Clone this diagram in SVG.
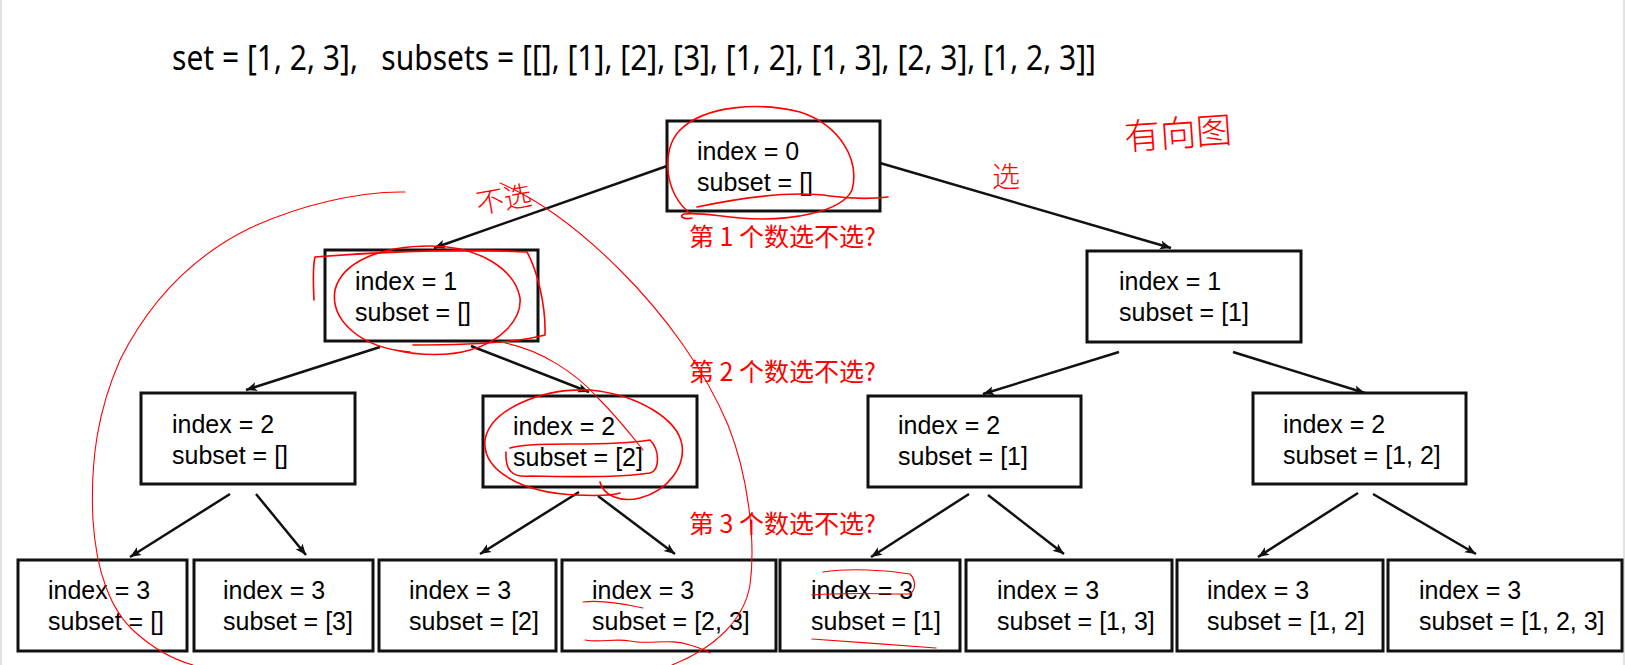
<svg xmlns="http://www.w3.org/2000/svg" width="1625" height="665" viewBox="0 0 1625 665">
<defs>
<style>
.box{fill:#fff;stroke:#111;stroke-width:3}
.t{font-family:"Liberation Sans",Arial,sans-serif;font-size:25px;fill:#000}
.title{font-family:"Noto Sans","Open Sans",sans-serif;font-size:34px;fill:#000;white-space:pre}
.lbl{font-family:"Noto Sans CJK SC","Noto Sans",sans-serif;font-size:25px;fill:#ff0000}
.hw{font-family:"Noto Sans CJK SC",sans-serif;fill:#ff0000;font-weight:300}
.edge{stroke:#111;stroke-width:2.5;fill:none;marker-end:url(#ah)}
.ink{stroke:#ff0000;fill:none;stroke-width:1.6;stroke-linecap:round;stroke-linejoin:round}
.thin{stroke:#ff0000;fill:none;stroke-width:1.1;stroke-linecap:round}
</style>
<marker id="ah" markerWidth="12" markerHeight="10" refX="11" refY="5" orient="auto" markerUnits="userSpaceOnUse">
<path d="M0,0.5 L11,5 L0,9.5 L2.5,5 z" fill="#111"/>
</marker>
</defs>
<rect x="0" y="0" width="1625" height="665" fill="#fff"/>
<line x1="1" y1="0" x2="1" y2="665" stroke="#e2e2e2" stroke-width="2"/>
<line x1="1624" y1="0" x2="1624" y2="665" stroke="#e2e2e2" stroke-width="2"/>

<text id="title" class="title" x="172" y="70" textLength="924" lengthAdjust="spacingAndGlyphs" xml:space="preserve">set = [1, 2, 3],   subsets = [[], [1], [2], [3], [1, 2], [1, 3], [2, 3], [1, 2, 3]]</text>

<g id="connectors">
<line class="edge" x1="667" y1="166" x2="434" y2="248"/>
<line class="edge" x1="880" y1="163" x2="1171" y2="248"/>
<line class="edge" x1="380" y1="347" x2="246" y2="390"/>
<line class="edge" x1="471" y1="346" x2="589" y2="392"/>
<line class="edge" x1="1119" y1="352" x2="983" y2="394"/>
<line class="edge" x1="1233" y1="352" x2="1365" y2="393"/>
<line class="edge" x1="230" y1="494" x2="130" y2="557"/>
<line class="edge" x1="256" y1="494" x2="306" y2="555"/>
<line class="edge" x1="579" y1="492" x2="480" y2="554"/>
<line class="edge" x1="598" y1="496" x2="675" y2="554"/>
<line class="edge" x1="969" y1="494" x2="871" y2="557"/>
<line class="edge" x1="988" y1="495" x2="1064" y2="554"/>
<line class="edge" x1="1358" y1="493" x2="1258" y2="557"/>
<line class="edge" x1="1373" y1="494" x2="1476" y2="554"/>
</g>

<g id="n0"><rect class="box" x="667" y="121" width="213" height="90"/><text class="t" x="697" y="160">index = 0</text><text class="t" x="697" y="191">subset = []</text></g>
<g id="n1"><rect class="box" x="325" y="250" width="213" height="91"/><text class="t" x="355" y="290">index = 1</text><text class="t" x="355" y="321">subset = []</text></g>
<g id="n2"><rect class="box" x="1087" y="251" width="214" height="91"/><text class="t" x="1119" y="290">index = 1</text><text class="t" x="1119" y="321">subset = [1]</text></g>
<g id="n3"><rect class="box" x="141" y="393" width="214" height="91"/><text class="t" x="172" y="433">index = 2</text><text class="t" x="172" y="464">subset = []</text></g>
<g id="n4"><rect class="box" x="483" y="396" width="214" height="91"/><text class="t" x="513" y="435">index = 2</text><text class="t" x="513" y="466">subset = [2]</text></g>
<g id="n5"><rect class="box" x="868" y="396" width="213" height="91"/><text class="t" x="898" y="434">index = 2</text><text class="t" x="898" y="465">subset = [1]</text></g>
<g id="n6"><rect class="box" x="1253" y="393" width="213" height="91"/><text class="t" x="1283" y="433">index = 2</text><text class="t" x="1283" y="464">subset = [1, 2]</text></g>

<g id="n7"><rect class="box" x="18" y="560" width="169" height="91"/><text class="t" x="48" y="599">index = 3</text><text class="t" x="48" y="630">subset = []</text></g>
<g id="n8"><rect class="box" x="194" y="560" width="179" height="91"/><text class="t" x="223" y="599">index = 3</text><text class="t" x="223" y="630">subset = [3]</text></g>
<g id="n9"><rect class="box" x="379" y="560" width="177" height="91"/><text class="t" x="409" y="599">index = 3</text><text class="t" x="409" y="630">subset = [2]</text></g>
<g id="n10"><rect class="box" x="562" y="560" width="214" height="91"/><text class="t" x="592" y="599">index = 3</text><text class="t" x="592" y="630">subset = [2, 3]</text></g>
<g id="n11"><rect class="box" x="780" y="560" width="180" height="91"/><text class="t" x="811" y="599">index = 3</text><text class="t" x="811" y="630">subset = [1]</text></g>
<g id="n12"><rect class="box" x="966" y="560" width="206" height="91"/><text class="t" x="997" y="599">index = 3</text><text class="t" x="997" y="630">subset = [1, 3]</text></g>
<g id="n13"><rect class="box" x="1177" y="560" width="206" height="91"/><text class="t" x="1207" y="599">index = 3</text><text class="t" x="1207" y="630">subset = [1, 2]</text></g>
<g id="n14"><rect class="box" x="1388" y="560" width="234" height="91"/><text class="t" x="1419" y="599">index = 3</text><text class="t" x="1419" y="630">subset = [1, 2, 3]</text></g>

<g id="labels">
<text class="lbl" x="689" y="246">第 1 个数选不选?</text>
<text class="lbl" x="689" y="381">第 2 个数选不选?</text>
<text class="lbl" x="689" y="533">第 3 个数选不选?</text>
</g>

<g id="annotations">
<text class="hw" x="1125" y="150" font-size="36" transform="rotate(-4 1125 150)">有向图</text>
<text class="hw" x="992" y="187" font-size="28">选</text>
<text class="hw" x="478" y="214" font-size="28" transform="rotate(-10 478 214)">不选</text>
<path class="thin" d="M405,192 C360,191 300,205 250,228 C195,255 150,300 120,360 C98,410 90,460 93,520 C96,570 110,610 135,632 C155,650 175,660 193,665"/>
<path class="thin" d="M500,183 C540,200 580,230 620,270 C665,315 705,370 728,425 C748,475 756,540 750,585 C744,620 715,648 672,665"/>
<path class="ink" d="M690,213 C665,195 660,150 680,130 C705,105 760,102 800,112 C840,125 860,160 852,190 C842,212 790,222 740,218 C715,216 700,212 684,214 C678,216 684,220 692,218"/>
<path class="ink" d="M697,207 C740,198 790,190 830,196 C860,200 880,198 888,197"/>
<path class="ink" d="M410,352 C360,348 330,320 335,290 C342,262 380,246 430,246 C480,246 515,270 520,298 C522,320 500,342 470,350 C450,356 420,356 395,350"/>
<path class="ink" d="M314,300 C313,280 313,265 315,257 C380,252 460,248 527,252 C537,270 546,305 545,335 C520,342 470,345 413,345"/>
<path class="thin" d="M505,343 C540,350 575,372 598,398 C620,420 635,440 643,450"/>
<path class="ink" d="M600,482 C603,495 620,503 640,498 C670,490 685,465 682,445 C678,420 640,395 590,390 C540,388 490,410 485,440 C482,470 520,492 575,495 C600,496 615,495 620,493"/>
<path class="ink" d="M510,448 C540,440 600,448 650,440 C660,450 660,470 650,473 C620,478 570,477 530,476 C512,478 505,470 506,452"/>
<path class="thin" d="M583,602 C600,600 625,604 643,608"/>
<path class="thin" d="M585,640 C600,643 615,638 630,641 C650,645 670,638 690,645 C700,648 705,650 710,653"/>
<path class="thin" d="M823,572 C850,568 885,570 910,574 C916,580 916,590 910,594 C880,594 850,592 812,595"/>
<path class="thin" d="M812,639 C850,642 900,645 936,648"/>
</g>
</svg>
